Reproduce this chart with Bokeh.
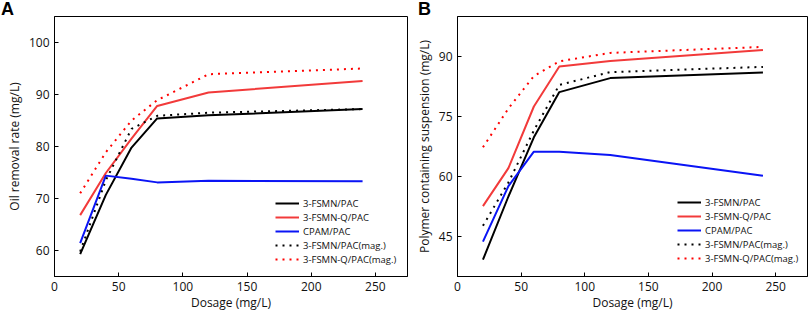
from bokeh.plotting import figure
from bokeh.layouts import row, column
from bokeh.models import FixedTicker, Range1d, Legend, LegendItem, Div
from bokeh.embed import file_html
from bokeh.resources import INLINE

dosage = [20, 40, 60, 80, 120, 240]

# Panel A: oil removal rate
a_fsmn = [59.3, 70.7, 79.8, 85.4, 86.0, 87.2]
a_fsmnq = [66.8, 74.9, 81.5, 87.8, 90.4, 92.6]
a_cpam = [61.4, 74.4, 73.8, 73.1, 73.4, 73.3]
a_fsmn_mag = [59.8, 73.5, 83.4, 85.9, 86.5, 87.2]
a_fsmnq_mag = [71.0, 78.9, 85.0, 88.9, 93.9, 95.0]

# Panel B: polymer containing suspension
b_fsmn = [39.2, 55.0, 69.8, 81.1, 84.6, 86.0]
b_fsmnq = [52.6, 62.1, 77.5, 87.5, 88.9, 91.6]
b_cpam = [43.7, 57.6, 66.2, 66.2, 65.4, 60.2]
b_fsmn_mag = [47.7, 58.5, 71.5, 82.9, 86.1, 87.4]
b_fsmnq_mag = [67.3, 77.0, 85.1, 88.8, 90.9, 92.4]

series_names = ["3-FSMN/PAC", "3-FSMN-Q/PAC", "CPAM/PAC",
                "3-FSMN/PAC(mag.)", "3-FSMN-Q/PAC(mag.)"]
x_ticks = [0, 50, 100, 150, 200, 250]
a_y_ticks = [60, 70, 80, 90, 100]
b_y_ticks = [45, 60, 75, 90]
x_title = "Dosage (mg/L)"

FONT = "Open Sans"
styles = [
    dict(color="#000000", dash="solid"),
    dict(color="#f23a3a", dash="solid"),
    dict(color="#0a14f5", dash="solid"),
    dict(color="#000000", dash="2 5"),
    dict(color="#ff0000", dash="2 5"),
]


def make_panel(width, bl, br, ylabel, yr, yticks, data, leg_x, leg_y):
    p = figure(width=width, height=298, output_backend="svg", toolbar_location=None,
               x_range=Range1d(0, 275), y_range=Range1d(*yr),
               min_border_left=bl, min_border_right=br,
               min_border_top=1, min_border_bottom=37)
    p.background_fill_color = "white"
    p.border_fill_color = "white"
    p.outline_line_color = "black"
    p.outline_line_width = 1
    p.outline_line_alpha = 1
    p.xgrid.visible = False
    p.ygrid.visible = False
    p.xaxis.ticker = FixedTicker(ticks=x_ticks)
    p.yaxis.ticker = FixedTicker(ticks=yticks)
    p.xaxis.axis_label = x_title
    p.yaxis.axis_label = ylabel
    for ax in (p.xaxis[0], p.yaxis[0]):
        ax.major_tick_in = 4
        ax.major_tick_out = 0
        ax.minor_tick_in = 0
        ax.minor_tick_out = 0
        ax.axis_line_color = "black"
        ax.major_tick_line_color = "black"
        ax.major_label_text_font = FONT
        ax.major_label_text_font_size = "12px"
        ax.major_label_text_color = "#111111"
        ax.axis_label_text_font = FONT
        ax.axis_label_text_font_size = "12px"
        ax.axis_label_text_font_style = "normal"
        ax.axis_label_text_color = "#111111"
    p.xaxis.major_label_standoff = 5
    p.xaxis.axis_label_standoff = 0
    p.yaxis.major_label_standoff = 5
    p.yaxis.axis_label_standoff = 3

    items = []
    for name, ys, st in zip(series_names, data, styles):
        r = p.line(dosage, ys, line_color=st["color"], line_width=2,
                   line_dash=st["dash"], line_cap="butt")
        items.append(LegendItem(label=name, renderers=[r]))
    leg = Legend(items=items, location=(leg_x, leg_y), padding=0, margin=0,
                 spacing=0, glyph_width=24, glyph_height=14, label_height=14,
                 label_standoff=4, border_line_color=None,
                 background_fill_alpha=0,
                 label_text_font=FONT, label_text_font_size="9.5px",
                 label_text_color="#111111")
    p.add_layout(leg, "center")
    return p


def tag_div(text, width, pad):
    return Div(text=text, width=width, height=15, margin=(0, 0, 0, 0),
               styles={"font-family": "Liberation Sans", "font-size": "18px",
                       "font-weight": "bold", "line-height": "18px",
                       "padding-left": f"{pad}px", "color": "black",
                       "overflow": "visible"})


pa = make_panel(408, 54, 1, "Oil removal rate (mg/L)", (55, 105), a_y_ticks,
                [a_fsmn, a_fsmnq, a_cpam, a_fsmn_mag, a_fsmnq_mag], 221, 10)
pb = make_panel(401, 49, 2, "Polymer containing suspension (mg/L)", (35, 100), b_y_ticks,
                [b_fsmn, b_fsmnq, b_cpam, b_fsmn_mag, b_fsmnq_mag], 220, 11)

tags = row(tag_div("A", 408, 1), tag_div("B", 401, 10), spacing=0)
layout = column(tags, row(pa, pb, spacing=0), spacing=0)
open("out.html", "w").write(file_html(layout, INLINE))
